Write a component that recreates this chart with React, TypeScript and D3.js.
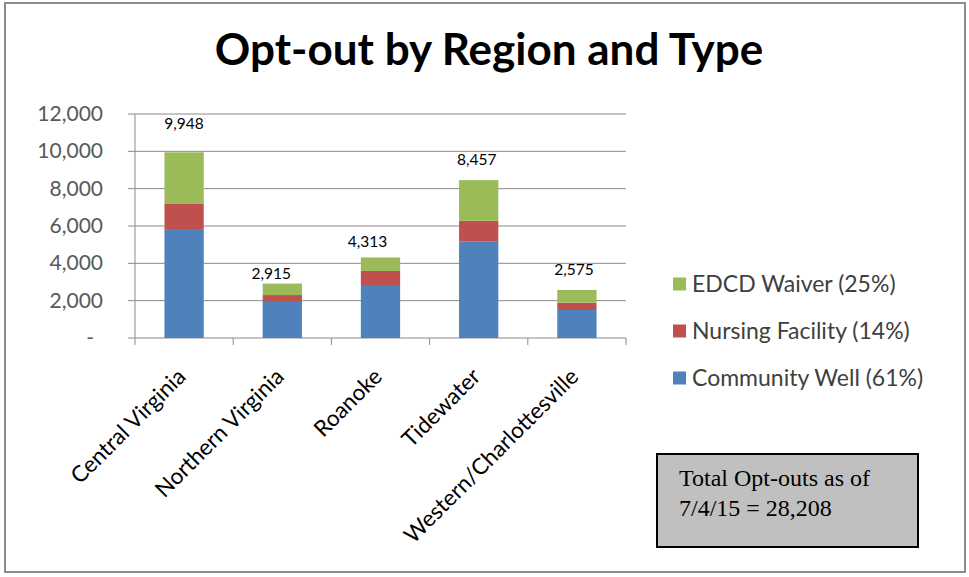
import React from "react";
import * as d3 from "d3";

const categories = ["Central Virginia", "Northern Virginia", "Roanoke", "Tidewater", "Western/Charlottesville"];
const communityWell = [5790, 1930, 2840, 5160, 1500];
const nursingFacility = [1390, 370, 750, 1120, 390];
const edcdWaiver = [2768, 615, 723, 2177, 685];
const totals = [9948, 2915, 4313, 8457, 2575];
const seriesNames = ["Community Well (61%)", "Nursing Facility (14%)", "EDCD Waiver (25%)"];
const seriesColors = ["#4f81bd", "#c0504d", "#9bbb59"];
const yTicks = [0, 2000, 4000, 6000, 8000, 10000, 12000];
const title = "Opt-out by Region and Type";
const noteLines = ["Total Opt-outs as of", "7/4/15 = 28,208"];
// manual nudges of the total labels (pixels), as placed in the original
const labelDx = [0, -11, -13, -2, -3];
const labelGap = [23, 5, 10, 15, 15];

const W = 969;
const H = 577;
const plot = { left: 135, right: 626, top: 114, bottom: 338 };
const font = "Lato, 'Open Sans', sans-serif";

export default function App() {
  const x = d3.scaleBand<string>().domain(categories).range([plot.left, plot.right]).paddingInner(0.6).paddingOuter(0.3);
  const band = d3.scaleBand<string>().domain(categories).range([plot.left, plot.right]);
  const y = d3.scaleLinear().domain([0, 12000]).range([plot.bottom, plot.top]);
  const rows = categories.map((c, i) => ({ cat: c, s0: communityWell[i], s1: nursingFacility[i], s2: edcdWaiver[i] }));
  const stack = d3.stack<any>().keys(["s0", "s1", "s2"])(rows);
  const fmt = d3.format(",");

  return (
    <svg width={W} height={H} style={{ position: "absolute", left: 0, top: 0, background: "#fff" }}>
      <rect x={5} y={3} width={960} height={569} fill="#fff" stroke="#8c8c8c" strokeWidth={2} />
      <text x={489} y={65} textAnchor="middle" fontFamily={font} fontWeight="bold" fontSize={44} fill="#000">{title}</text>
      {yTicks.map((t) => (
        <g key={t}>
          {t > 0 && <line x1={plot.left} x2={plot.right} y1={y(t)} y2={y(t)} stroke="#8a8a8a" strokeWidth={1} />}
          <line x1={plot.left - 7} x2={plot.left} y1={y(t)} y2={y(t)} stroke="#8a8a8a" strokeWidth={1} />
          <text x={t === 0 ? 94 : 103} y={y(t) + 7} textAnchor="end" fontFamily={font} fontSize={21} fill="#595959">{t === 0 ? "-" : fmt(t)}</text>
        </g>
      ))}
      <line x1={plot.left} x2={plot.left} y1={plot.top} y2={plot.bottom} stroke="#8a8a8a" />
      <line x1={plot.left} x2={plot.right} y1={plot.bottom} y2={plot.bottom} stroke="#8a8a8a" />
      {categories.map((c) => (
        <line key={c} x1={band(c)!} x2={band(c)!} y1={plot.bottom} y2={plot.bottom + 7} stroke="#8a8a8a" />
      ))}
      <line x1={plot.right} x2={plot.right} y1={plot.bottom} y2={plot.bottom + 7} stroke="#8a8a8a" />
      {stack.map((layer, si) => (
        <g key={si}>
          {layer.map((d, i) => (
            <rect key={i} x={x(categories[i])!} width={x.bandwidth()} y={y(d[1])} height={y(d[0]) - y(d[1])} fill={seriesColors[si]} />
          ))}
        </g>
      ))}
      {categories.map((c, i) => (
        <text key={c} x={x(c)! + x.bandwidth() / 2 + labelDx[i]} y={y(totals[i]) - labelGap[i]} textAnchor="middle" fontFamily={font} fontSize={15.5} fill="#000">{fmt(totals[i])}</text>
      ))}
      {categories.map((c) => {
        const cx = band(c)! + band.bandwidth() / 2 + 3;
        const cy = plot.bottom + 40;
        return (
          <text key={c} transform={`translate(${cx},${cy}) rotate(-45)`} textAnchor="end" fontFamily={font} fontSize={22.5} fill="#000">{c}</text>
        );
      })}
      {[2, 1, 0].map((si, k) => (
        <g key={si} transform={`translate(673,${284 + k * 47})`}>
          <rect x={0} y={-6.5} width={13} height={13} fill={seriesColors[si]} />
          <text x={19} y={8} fontFamily={font} fontSize={23} fill="#404040">{seriesNames[si]}</text>
        </g>
      ))}
      <rect x={657} y={454} width={261} height={93} fill="#c0c0c0" stroke="#000" strokeWidth={2} />
      {noteLines.map((l, i) => (
        <text key={i} x={679} y={486 + i * 30} fontFamily="'Liberation Serif', 'Times New Roman', serif" fontSize={24} fill="#000">{l}</text>
      ))}
    </svg>
  );
}
